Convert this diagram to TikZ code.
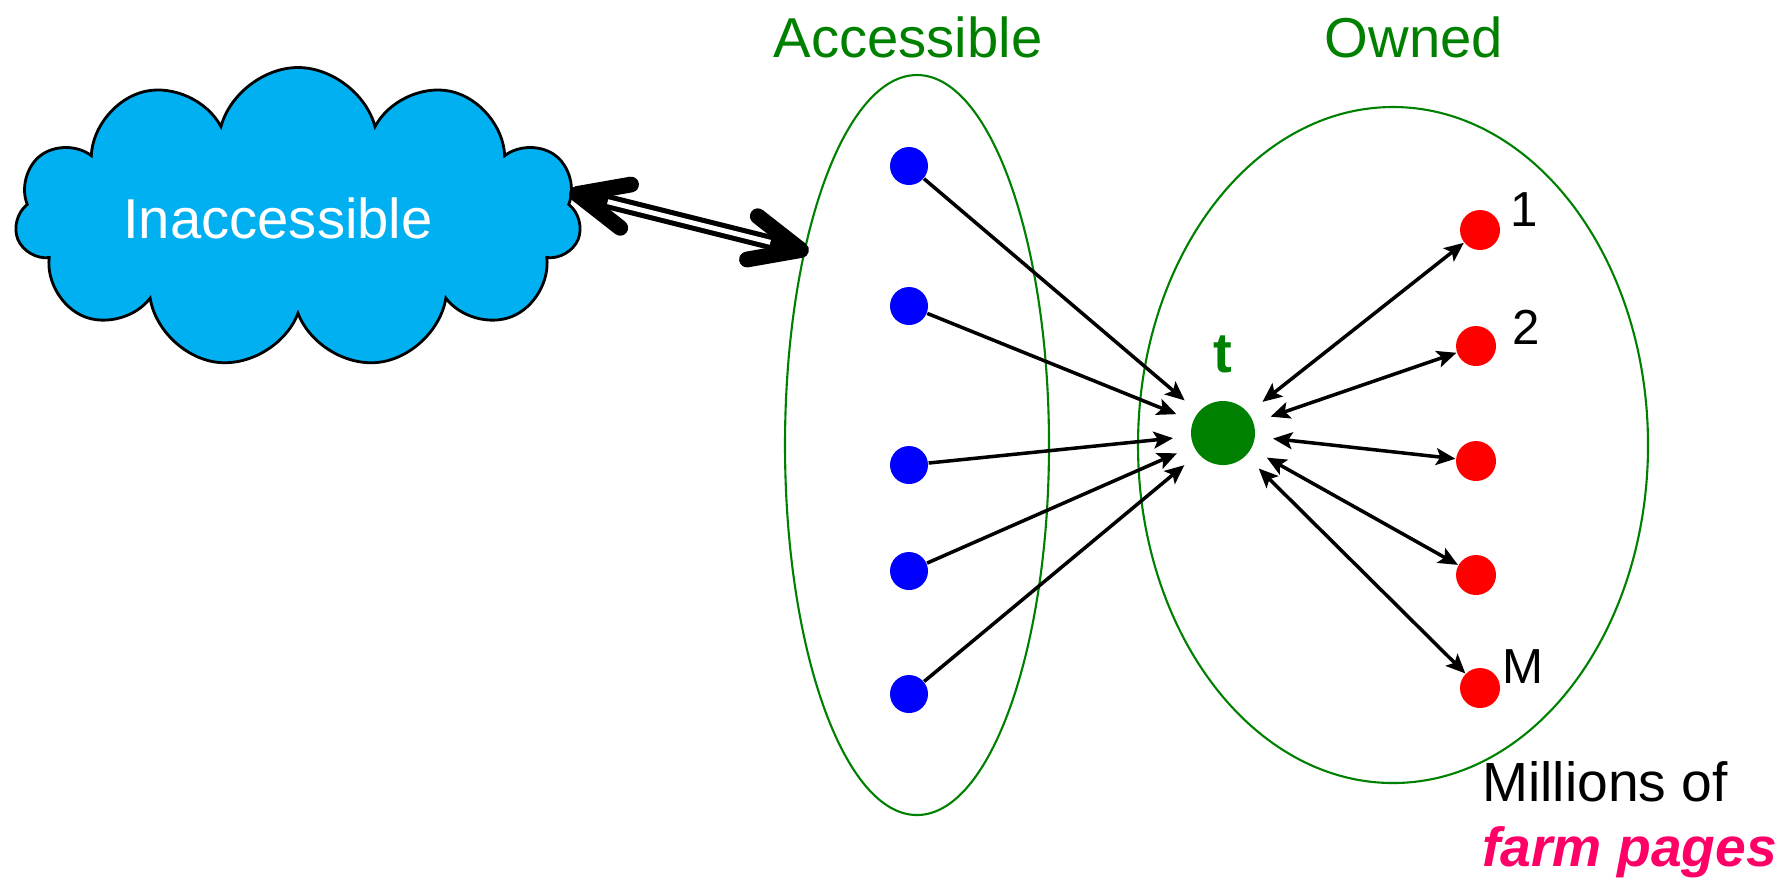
\documentclass[tikz,border=0pt]{standalone}
\usepackage{fontspec}
\setmainfont{Liberation Sans}
\usepackage{xcolor}
\definecolor{cloudblue}{RGB}{0,176,240}
\definecolor{setgreen}{RGB}{0,128,0}
\definecolor{farmpink}{RGB}{255,0,102}
\usetikzlibrary{shapes.symbols,shapes.geometric,arrows.meta,calc}
\tikzset{
  page/.style={circle,fill=blue,minimum size=0.38cm,inner sep=0pt},
  farm/.style={circle,fill=red,minimum size=0.40cm,inner sep=0pt},
  target/.style={circle,fill=setgreen,minimum size=0.64cm,inner sep=0pt},
  set/.style={ellipse,draw=setgreen,line width=0.6pt,inner sep=0pt},
  big/.style={font=\fontsize{16}{18}\selectfont},
  small/.style={font=\fontsize{14}{16}\selectfont},
  link/.style={line width=1pt,>={Stealth[length=5.5pt,width=4.8pt,inset=1.2pt]},->},
  twoway/.style={line width=1pt,>={Stealth[length=5.5pt,width=4.8pt,inset=1.2pt]},<->},
}

\begin{document}
\begin{tikzpicture}
\useasboundingbox (0,0) rectangle (17.79,-8.79);
% the two sets
\node[set,minimum width=2.64cm,minimum height=7.40cm] (accset) at (9.17,-4.45){};
\node[set,minimum width=5.10cm,minimum height=6.76cm] (ownset) at (13.93,-4.45){};
\node[big,text=setgreen] (acclab) at (9.08,-0.37){Accessible};
\node[big,text=setgreen] (ownlab) at (14.14,-0.37){Owned};
% the cloud
\node[cloud,cloud puffs=11,cloud ignores aspect,draw,line width=0.8pt,fill=cloudblue,
  minimum width=5.66cm,minimum height=3.01cm,big,text=white] (inacc) at (2.98,-2.18)
  {\raisebox{-0.08cm}{Inaccessible}\hspace*{0.4cm}};
% pages
\node[page] (a1) at (9.09,-1.66){};
\node[page] (a2) at (9.09,-3.06){};
\node[page] (a3) at (9.09,-4.65){};
\node[page] (a4) at (9.09,-5.71){};
\node[page] (a5) at (9.09,-6.94){};
\node[target] (t) at (12.23,-4.33){};
\node[text=setgreen,font=\fontsize{16}{18}\selectfont\bfseries] (tlab) at (12.23,-3.54){t};
\node[farm] (o1) at (14.80,-2.30){};
\node[farm] (o2) at (14.76,-3.46){};
\node[farm] (o3) at (14.76,-4.61){};
\node[farm] (o4) at (14.76,-5.75){};
\node[farm] (o5) at (14.80,-6.88){};
\node[small] (n1) at (15.24,-2.10){1};
\node[small] (n2) at (15.26,-3.27){2};
\node[small] (nM) at (15.23,-6.67){M};
\node[align=left,anchor=west,font=\fontsize{15.7}{18.4}\selectfont] (note) at (14.70,-8.20)
  {Millions of\\\textcolor{farmpink}{\bfseries\itshape farm pages}};
% links into t
\draw[link,shorten >=5pt] (a1) -- (t);
\draw[link,shorten >=5pt] (a2) -- (t);
\draw[link,shorten >=5pt] (a3) -- (t);
\draw[link,shorten >=5pt] (a4) -- (t);
\draw[link,shorten >=5pt] (a5) -- (t);
\draw[twoway,shorten <=5pt] (t) -- (o1);
\draw[twoway,shorten <=5pt] (t) -- (o2);
\draw[twoway,shorten <=5pt] (t) -- (o3);
\draw[twoway,shorten <=5pt] (t) -- (o4);
\draw[twoway,shorten <=5pt] (t) -- (o5);
% the hollow double arrow
\coordinate (inL) at (5.77,-1.94);
\coordinate (inR) at (8.01,-2.50);
\draw[line width=4.3pt] (inL) -- (inR);
\draw[white,line width=1.4pt,shorten <=9pt,shorten >=9pt] (inL) -- (inR);
\draw[line width=4.5pt,line cap=round,line join=round]
  ($(inL)!15.6pt!24:(inR)$) -- (inL) -- ($(inL)!15.6pt!-24:(inR)$);
\draw[line width=4.5pt,line cap=round,line join=round]
  ($(inR)!15.6pt!24:(inL)$) -- (inR) -- ($(inR)!15.6pt!-24:(inL)$);
\end{tikzpicture}
\end{document}
